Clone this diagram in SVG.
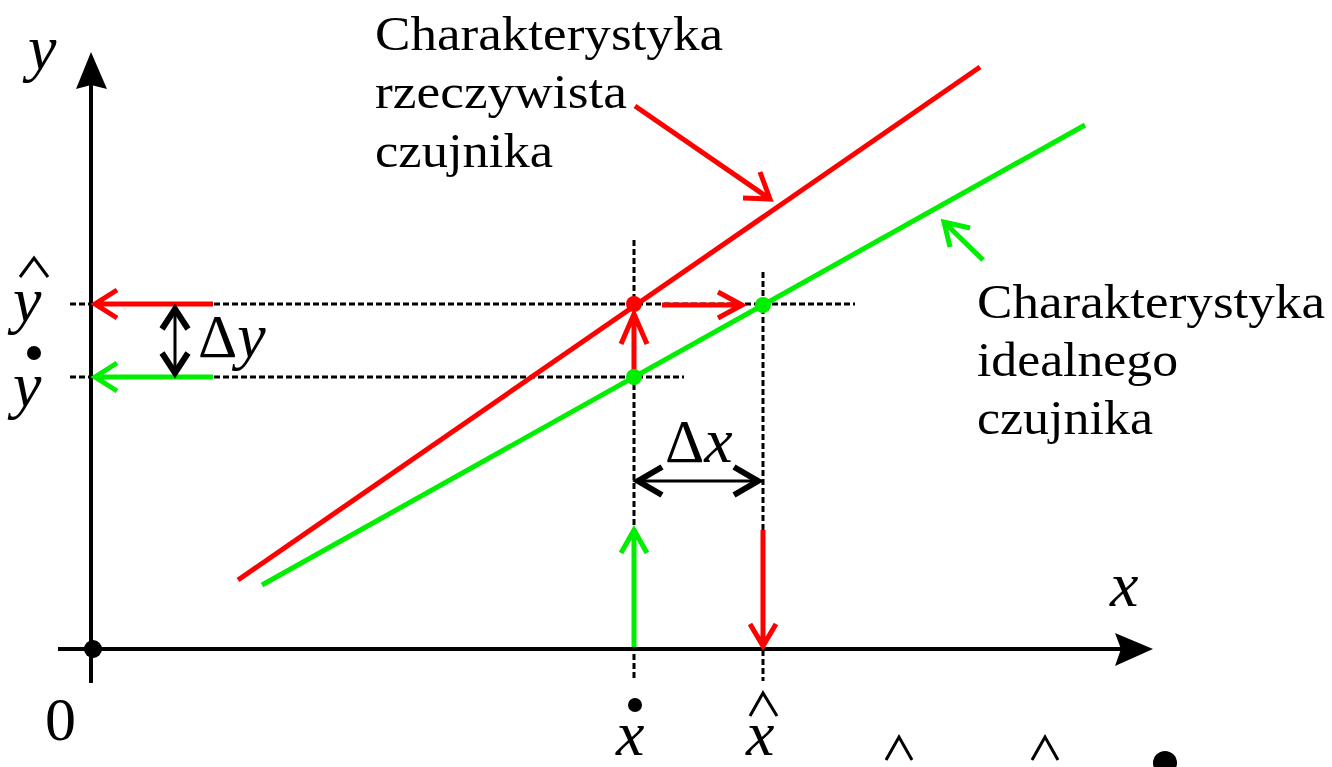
<svg xmlns="http://www.w3.org/2000/svg" width="1332" height="767" viewBox="0 0 1332 767">
<style>
.lbl{font-family:"Liberation Serif","Times New Roman",serif;font-size:49px;fill:#000}
.math{font-family:"Liberation Serif","Times New Roman",serif;font-style:italic;font-size:64px;fill:#000}
.greek{font-family:"Liberation Serif","Times New Roman",serif;font-size:61px;fill:#000}
.dash{stroke:#000;stroke-width:3;stroke-dasharray:6 3;fill:none}
.axis{stroke:#000;stroke-width:4;fill:none}
.red{stroke:#ff0000;stroke-width:5;fill:none}
.grn{stroke:#00ee00;stroke-width:5;fill:none}
.blk{stroke:#000;stroke-width:6;fill:none}
.hat{stroke:#000;stroke-width:3;fill:none}
</style>
<rect width="1332" height="767" fill="#fff"/>
<g id="axes">
  <line class="axis" x1="91" y1="80" x2="91" y2="683"/>
  <path d="M91,52 L107,89 L91,85 L76,89 Z" fill="#000"/>
  <line class="axis" x1="58" y1="649" x2="1130" y2="649"/>
  <path d="M1153,649 L1115,633 L1121,649 L1115,666 Z" fill="#000"/>
  <circle cx="93" cy="649" r="9" fill="#000"/>
</g>
<g id="guides">
  <line class="dash" x1="70" y1="304" x2="855" y2="304"/>
  <line class="dash" x1="70" y1="377" x2="684" y2="377"/>
  <line class="dash" x1="634" y1="240" x2="634" y2="681"/>
  <line class="dash" x1="763" y1="272" x2="763" y2="681"/>
</g>
<g id="characteristics">
  <line class="red" x1="238" y1="580" x2="980" y2="67"/>
  <line class="grn" x1="262" y1="585" x2="1085" y2="125"/>
</g>
<g id="connectors">
  <path class="red" d="M213,304 H95 M117,290 L95,304 L117,318"/>
  <path class="grn" d="M213,377 H95 M117,363 L95,377 L117,391"/>
  <path stroke="#000" stroke-width="3" fill="none" d="M175,309 V373"/>
  <path class="blk" d="M162,329 L175,309 L188,329 M162,353 L175,373 L188,353"/>
  <path class="red" d="M634,372 V313 M621,344 L634,314 L647,344"/>
  <path class="red" d="M662,305 H742 M718,292 L742,305 L718,318"/>
  <path stroke="#000" stroke-width="3" fill="none" d="M638,481 H758"/>
  <path class="blk" d="M662,467 L638,481 L662,495 M734,467 L758,481 L734,495"/>
  <path class="grn" d="M634,647 V530 M621,553 L634,530 L647,553"/>
  <path class="red" d="M763,530 V645 M750,624 L763,646 L776,624"/>
  <path class="red" d="M635,106 L770,199 M743,198 L770,199 L760,172"/>
  <path class="grn" d="M983,260 L944,222 M970,228 L944,222 L950,247"/>
</g>
<g id="points">
  <circle cx="634" cy="304" r="8" fill="#ff0000"/>
  <circle cx="634" cy="377" r="8" fill="#00ee00"/>
  <circle cx="763" cy="305" r="8" fill="#00ee00"/>
</g>
<g id="label-real">
  <text class="lbl" x="375" y="50" textLength="348" lengthAdjust="spacingAndGlyphs">Charakterystyka</text>
  <text class="lbl" x="375" y="108" textLength="252" lengthAdjust="spacingAndGlyphs">rzeczywista</text>
  <text class="lbl" x="375" y="167" textLength="178" lengthAdjust="spacingAndGlyphs">czujnika</text>
</g>
<g id="label-ideal">
  <text class="lbl" x="977" y="318" textLength="348" lengthAdjust="spacingAndGlyphs">Charakterystyka</text>
  <text class="lbl" x="977" y="376" textLength="201" lengthAdjust="spacingAndGlyphs">idealnego</text>
  <text class="lbl" x="977" y="434" textLength="176" lengthAdjust="spacingAndGlyphs">czujnika</text>
</g>
<g id="axis-labels">
  <text class="math" x="28" y="69">y</text>
  <text class="math" x="1110" y="606">x</text>
  <text class="lbl" x="45" y="740" style="font-size:62px">0</text>
  <polyline class="hat" points="20,277 34,258 48,277"/>
  <text class="math" x="13" y="321">y</text>
  <circle cx="34" cy="353" r="7" fill="#000"/>
  <text class="math" x="13" y="406">y</text>
  <text class="greek" x="198" y="357">Δ<tspan class="math">y</tspan></text>
  <text class="greek" x="665" y="462">Δ<tspan class="math">x</tspan></text>
  <circle cx="635" cy="705" r="7" fill="#000"/>
  <text class="math" x="616" y="755">x</text>
  <polyline class="hat" points="750,716 763,693 777,716"/>
  <text class="math" x="746" y="755">x</text>
  <polyline class="hat" points="886,760 899,737 912,760"/>
  <polyline class="hat" points="1032,760 1045,737 1058,760"/>
  <circle cx="1165" cy="763" r="12" fill="#000"/>
</g>
</svg>
